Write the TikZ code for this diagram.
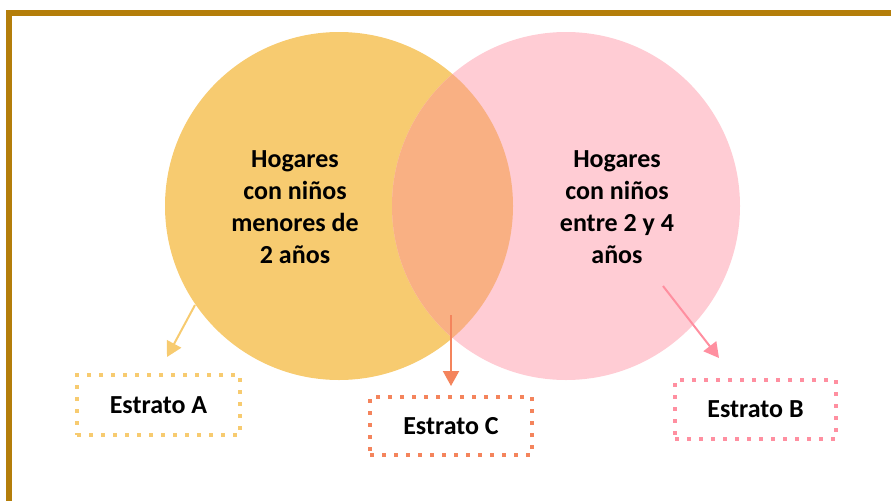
\documentclass[tikz,border=0pt]{standalone}
\usepackage{fontspec}
\setmainfont{Carlito}
\usetikzlibrary{arrows.meta}
\definecolor{frame}{RGB}{180,126,10}
\definecolor{cyel}{RGB}{247,203,112}
\definecolor{cpink}{RGB}{255,204,212}
\definecolor{cmix}{RGB}{249,176,131}
\definecolor{lyel}{RGB}{247,203,112}
\definecolor{lorg}{RGB}{244,132,92}
\definecolor{lpink}{RGB}{255,143,160}
\tikzset{
  settext/.style={align=center, inner sep=0pt, font=\fontsize{26}{32}\selectfont\bfseries},
  stratbox/.style={draw=#1, line width=4pt, dash pattern=on 4pt off 8pt, minimum width=162pt, minimum height=59pt, inner sep=0pt, font=\fontsize{26}{32}\selectfont\bfseries},
  stratarrow/.style={draw=#1, line width=2pt, -{Triangle[width=16pt,length=15pt]}},
}
\begin{document}
\begin{tikzpicture}[x=1pt,y=-1pt]
\useasboundingbox (0,0) rectangle (891,501);
% frame
\fill[frame] (6,10) rectangle (891,16);
\fill[frame] (6,10) rectangle (12,501);
% circles
\fill[cyel] (339,206) circle[radius=174];
\fill[cpink] (566,206) circle[radius=174];
\begin{scope}
  \clip (339,206) circle[radius=174];
  \fill[cmix] (566,206) circle[radius=174];
\end{scope}
% texts
\node[settext] (left) at (295,207) {Hogares\\con niños\\menores de\\2 años};
\node[settext] (right) at (617,207) {Hogares\\con niños\\entre 2 y 4\\años};
% boxes
\node[stratbox=lyel, minimum width=163pt, minimum height=60pt] (bA) at (158.5,405) {Estrato A};
\node[stratbox=lorg, minimum width=162pt, minimum height=58pt] (bC) at (451,426) {Estrato C};
\node[stratbox=lpink, minimum width=161pt, minimum height=59pt] (bB) at (755.5,409.5) {Estrato B};
% arrows
\coordinate (aS) at (195,305);
\coordinate (aE) at (167,357);
\coordinate (cS) at (451,315);
\coordinate (cE) at (451,386);
\coordinate (bS) at (663,286);
\coordinate (bE) at (719,358);
\draw[stratarrow=lyel] (aS) -- (aE);
\draw[stratarrow=lorg] (cS) -- (cE);
\draw[stratarrow=lpink] (bS) -- (bE);
\end{tikzpicture}
\end{document}
